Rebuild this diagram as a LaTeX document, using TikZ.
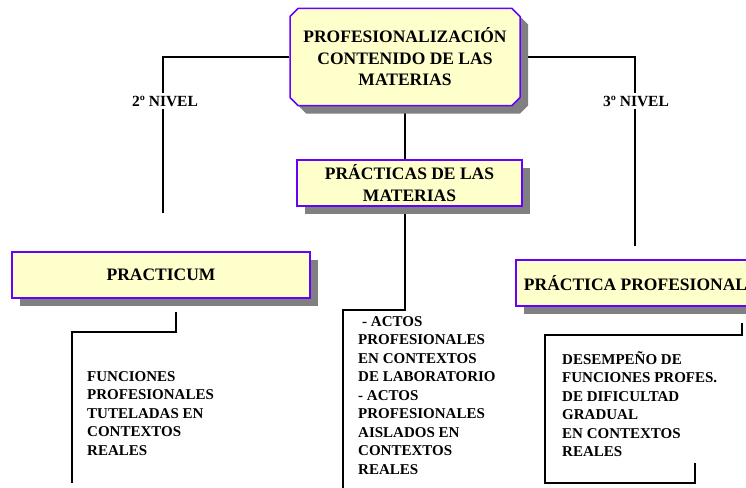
\documentclass[tikz,border=0pt]{standalone}
\usepackage{fontspec}
\setmainfont{Liberation Serif}
\usetikzlibrary{shapes.misc,shadows,backgrounds}
\definecolor{boxfill}{RGB}{255,255,204}
\definecolor{boxline}{RGB}{102,0,255}
\definecolor{boxshade}{RGB}{128,128,128}
\tikzset{
  BoxStyle/.style={draw=boxline, fill=boxfill, line width=1.5pt, inner sep=0pt,
    align=center, font=\fontsize{17.5}{21.5}\selectfont\bfseries,
    drop shadow={shadow xshift=8pt, shadow yshift=-8pt, fill=boxshade, opacity=1}},
  TextStyle/.style={anchor=north west, align=left, inner sep=0pt,
    font=\fontsize{15}{18.5}\selectfont\bfseries},
  LevelStyle/.style={fill=white, inner xsep=2pt, inner ysep=3pt,
    font=\fontsize{15.5}{17}\selectfont\bfseries},
  LineStyle/.style={line width=1.6pt}
}
\begin{document}
\begin{tikzpicture}[x=1pt, y=-1pt]
                \path[use as bounding box] (0,0) rectangle (746,487);
                \clip (0,0) rectangle (746,487);
                % boxes
                \node[BoxStyle, chamfered rectangle, chamfered rectangle xsep=4pt, chamfered rectangle ysep=4pt,
                  minimum width=230pt, minimum height=97pt] (PROF) at (405,57)
                  {PROFESIONALIZACIÓN\\CONTENIDO DE LAS\\MATERIAS};
                \node[BoxStyle, minimum width=225pt, minimum height=46pt] (PRAC) at (409.5,183)
                  {PRÁCTICAS DE LAS\\MATERIAS};
                \node[BoxStyle, minimum width=298pt, minimum height=46pt] (PCUM) at (161,275) {PRACTICUM};
                \node[BoxStyle, minimum width=239pt, minimum height=46pt] (PPRO) at (635.5,283) {PRÁCTICA PROFESIONAL};
                % texts
                \node[TextStyle] (TFUN) at (87,371) {FUNCIONES\\PROFESIONALES\\TUTELADAS EN\\CONTEXTOS\\REALES};
                \node[TextStyle] (TACT) at (358,316) {\hspace{4pt}- ACTOS\\PROFESIONALES\\EN CONTEXTOS\\DE LABORATORIO\\- ACTOS\\PROFESIONALES\\AISLADOS EN\\CONTEXTOS\\REALES};
                \node[TextStyle] (TDES) at (562,351) {DESEMPEÑO DE\\FUNCIONES PROFES.\\DE DIFICULTAD\\GRADUAL\\EN CONTEXTOS\\REALES};
                % connectors
                \coordinate (L2) at (163,213);
                \coordinate (R3) at (635,246);
                \coordinate (M1) at (343,490);
                \coordinate (P1) at (176,312);
                \coordinate (P2) at (72,483);
                \coordinate (D1) at (742,323);
                \coordinate (D2) at (695,463);
                \begin{pgfonlayer}{background}
                \draw[LineStyle] (PROF.west) -| (L2);
                \draw[LineStyle] (PROF.east) -| (R3);
                \draw[LineStyle] (PROF.south) -- (PROF.south |- PRAC.north);
                \draw[LineStyle] (PROF.south |- PRAC.south) -- ++(0,103) -| (M1);
                \draw[LineStyle] (P1) -- ++(0,20) -| (P2);
                \draw[LineStyle] (D1) -- ++(0,12) -| (545,483) -| (D2);
                \end{pgfonlayer}
                \node[LevelStyle] (N2) at (165,101) {2º NIVEL};
                \node[LevelStyle] (N3) at (636,101) {3º NIVEL};
\end{tikzpicture}
\end{document}
